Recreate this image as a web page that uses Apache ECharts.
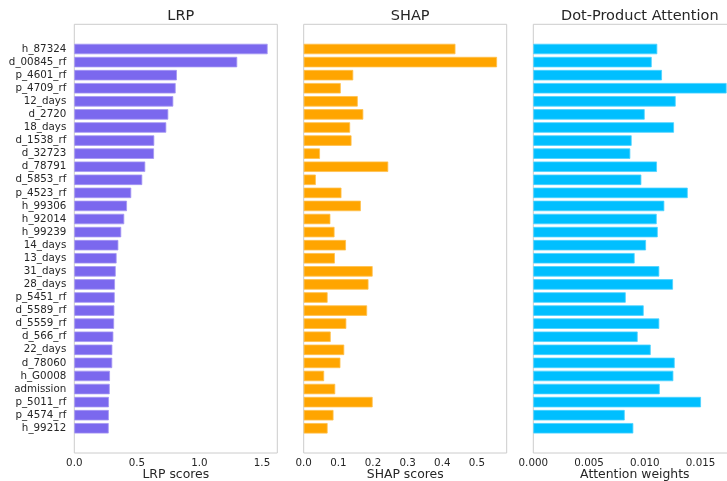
<!DOCTYPE html>
<html>
<head>
<meta charset="utf-8">
<script src="https://cdn.jsdelivr.net/npm/echarts@6/dist/echarts.min.js"></script>
<style>
  html, body { margin: 0; padding: 0; background: #fff; }
  #chart { width: 727px; height: 481px; }
</style>
</head>
<body>
<div id="chart"></div>
<script>
const features = ['h_87324', 'd_00845_rf', 'p_4601_rf', 'p_4709_rf', '12_days', 'd_2720', '18_days', 'd_1538_rf', 'd_32723', 'd_78791',
  'd_5853_rf', 'p_4523_rf', 'h_99306', 'h_92014', 'h_99239', '14_days', '13_days', '31_days', '28_days', 'p_5451_rf',
  'd_5589_rf', 'd_5559_rf', 'd_566_rf', '22_days', 'd_78060', 'h_G0008', 'admission', 'p_5011_rf', 'p_4574_rf', 'h_99212']
const lrpScores = [1.545, 1.302, 0.820, 0.810, 0.791, 0.751, 0.735, 0.639, 0.637, 0.567,
  0.543, 0.455, 0.421, 0.399, 0.375, 0.352, 0.338, 0.331, 0.325, 0.323,
  0.320, 0.318, 0.312, 0.304, 0.303, 0.285, 0.283, 0.277, 0.276, 0.275]
const shapScores = [0.438, 0.558, 0.143, 0.107, 0.156, 0.172, 0.134, 0.138, 0.047, 0.244,
  0.035, 0.109, 0.165, 0.077, 0.089, 0.122, 0.090, 0.199, 0.187, 0.069,
  0.183, 0.123, 0.078, 0.117, 0.106, 0.059, 0.091, 0.199, 0.086, 0.069]
const attentionWeights = [0.01112, 0.01062, 0.01154, 0.01734, 0.01277, 0.00999, 0.01262, 0.00882, 0.00870, 0.01109,
  0.00969, 0.01385, 0.01175, 0.01107, 0.01116, 0.01011, 0.00909, 0.01130, 0.01253, 0.00829,
  0.00990, 0.01130, 0.00936, 0.01053, 0.01268, 0.01256, 0.01134, 0.01504, 0.00820, 0.00897]

const FONT = 'DejaVu Sans'
const TEXT = '#262626'

// panel boxes (px) – all panels share the same size
const boxTop = 24.3
const boxHeight = 428.7
const boxWidth = 203
// matplotlib-like y limits: bars of height 0.8, 5% margins
const n = features.length
const span = (n - 1 + 0.8) * 1.1
const band = boxHeight / span
const barsTop = boxTop + (0.05 * (n - 1 + 0.8) - 0.1) * band

const panels = [
  { title: 'LRP', axisName: 'LRP scores', data: lrpScores, color: '#7b68ee', edge: '#a597f3', left: 74.3, interval: 0.5, digits: 1, names: true },
  { title: 'SHAP', axisName: 'SHAP scores', data: shapScores, color: '#ffa500', edge: '#ffc04d', left: 303.7, interval: 0.1, digits: 1, names: false },
  { title: 'Dot-Product Attention', axisName: 'Attention weights', data: attentionWeights, color: '#00bfff', edge: '#4dd2ff', left: 533.3, interval: 0.005, digits: 3, names: false }
]

const grid = []
const xAxis = []
const yAxis = []
const series = []
const title = []

panels.forEach((p, i) => {
  const xMax = Math.max(...p.data) * 1.05
  // frame grid: border + x tick labels
  grid.push({
    left: p.left, top: boxTop, width: boxWidth, height: boxHeight,
    show: true, borderColor: '#cccccc', borderWidth: 1, backgroundColor: '#ffffff',
    outerBoundsMode: 'none'
  })
  // bar grid: only the band of the 30 categories
  grid.push({
    left: p.left, top: barsTop, width: boxWidth, height: band * n,
    outerBoundsMode: 'none'
  })
  xAxis.push({
    type: 'value', gridIndex: 2 * i, min: 0, max: xMax, interval: p.interval,
    splitLine: { show: false }, axisLine: { show: false }, axisTick: { show: false },
    axisLabel: {
      color: TEXT, fontFamily: FONT, fontSize: 10.3, margin: 5,
      showMaxLabel: false,
      formatter: (v) => v.toFixed(p.digits)
    },
    name: p.axisName, nameLocation: 'middle', nameGap: 16, nameMoveOverlap: false,
    nameTextStyle: { color: TEXT, fontFamily: FONT, fontSize: 12.4, verticalAlign: 'top' }
  })
  xAxis.push({
    type: 'value', gridIndex: 2 * i + 1, min: 0, max: xMax, show: false
  })
  yAxis.push({ type: 'value', gridIndex: 2 * i, min: 0, max: 1, show: false })
  yAxis.push({
    type: 'category', gridIndex: 2 * i + 1, data: features, inverse: true,
    axisLine: { show: false }, axisTick: { show: false }, splitLine: { show: false },
    axisLabel: { show: p.names, interval: 0, margin: 8, color: TEXT, fontFamily: FONT, fontSize: 10.3 }
  })
  series.push({
    type: 'bar', xAxisIndex: 2 * i + 1, yAxisIndex: 2 * i + 1,
    data: p.data, barCategoryGap: '20%', silent: true,
    itemStyle: { color: p.color, borderColor: p.edge, borderWidth: 0.8 }
  })
  title.push({
    text: p.title, left: p.left + boxWidth / 2, top: 4, textAlign: 'center',
    textStyle: { color: TEXT, fontFamily: FONT, fontSize: 14.5, fontWeight: 'normal' }
  })
})

const chart = echarts.init(document.getElementById('chart'), null, { renderer: 'canvas' })
chart.setOption({
  animation: false,
  backgroundColor: '#ffffff',
  title,
  grid,
  xAxis,
  yAxis,
  series
})
</script>
</body>
</html>
